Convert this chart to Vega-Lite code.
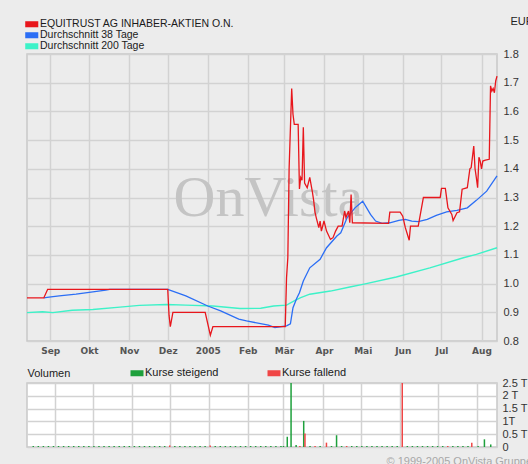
{
"$schema": "https://vega.github.io/schema/vega-lite/v6.json",
"background": "#ececec",
"padding": {"left": 23, "top": 14, "right": 0, "bottom": 0},
"config": {
  "font": "Liberation Sans",
  "view": {"fill": "white", "stroke": "#c8c8c8", "strokeWidth": 1.5},
  "axis": {"gridColor": "#d2d2d2", "gridWidth": 1.5, "domain": false, "ticks": false, "labelFont": "Liberation Sans", "labelFontSize": 11, "labelColor": "#333333", "labelFlush": false, "labelOverlap": false, "labelBound": false},
  "legend": {"labelFont": "Liberation Sans", "labelFontSize": 11, "labelColor": "#1a1a1a", "labelLimit": 400}
},
"datasets": {
  "lines": [
    {"s":"m200","date":"2004-08-14","v":0.899},{"s":"m200","date":"2004-08-26","v":0.902},{"s":"m200","date":"2004-09-03","v":0.899},{"s":"m200","date":"2004-09-18","v":0.907},{"s":"m200","date":"2004-10-04","v":0.91},{"s":"m200","date":"2004-10-25","v":0.918},{"s":"m200","date":"2004-11-09","v":0.924},{"s":"m200","date":"2004-11-30","v":0.927},{"s":"m200","date":"2004-12-15","v":0.925},{"s":"m200","date":"2005-01-05","v":0.922},{"s":"m200","date":"2005-01-26","v":0.913},{"s":"m200","date":"2005-02-11","v":0.914},{"s":"m200","date":"2005-02-21","v":0.922},{"s":"m200","date":"2005-03-03","v":0.925},{"s":"m200","date":"2005-03-10","v":0.942},{"s":"m200","date":"2005-03-14","v":0.951},{"s":"m200","date":"2005-03-21","v":0.963},{"s":"m200","date":"2005-04-06","v":0.974},{"s":"m200","date":"2005-04-21","v":0.988},{"s":"m200","date":"2005-05-02","v":0.998},{"s":"m200","date":"2005-05-27","v":1.023},{"s":"m200","date":"2005-06-22","v":1.055},{"s":"m200","date":"2005-07-18","v":1.09},{"s":"m200","date":"2005-07-28","v":1.102},{"s":"m200","date":"2005-08-13","v":1.125},
    {"s":"m38","date":"2004-08-27","v":0.95},{"s":"m38","date":"2004-08-31","v":0.953},{"s":"m38","date":"2004-09-08","v":0.957},{"s":"m38","date":"2004-09-21","v":0.963},{"s":"m38","date":"2004-10-04","v":0.971},{"s":"m38","date":"2004-10-14","v":0.977},{"s":"m38","date":"2004-10-17","v":0.98},{"s":"m38","date":"2004-12-01","v":0.98},{"s":"m38","date":"2004-12-15","v":0.957},{"s":"m38","date":"2005-01-01","v":0.922},{"s":"m38","date":"2005-01-11","v":0.905},{"s":"m38","date":"2005-01-25","v":0.876},{"s":"m38","date":"2005-01-31","v":0.87},{"s":"m38","date":"2005-02-17","v":0.855},{"s":"m38","date":"2005-02-22","v":0.847},{"s":"m38","date":"2005-03-03","v":0.853},{"s":"m38","date":"2005-03-06","v":0.86},{"s":"m38","date":"2005-03-08","v":0.916},{"s":"m38","date":"2005-03-11","v":0.95},{"s":"m38","date":"2005-03-13","v":0.968},{"s":"m38","date":"2005-03-16","v":1.009},{"s":"m38","date":"2005-03-21","v":1.055},{"s":"m38","date":"2005-03-29","v":1.085},{"s":"m38","date":"2005-04-03","v":1.125},{"s":"m38","date":"2005-04-11","v":1.166},{"s":"m38","date":"2005-04-14","v":1.177},{"s":"m38","date":"2005-04-19","v":1.23},{"s":"m38","date":"2005-04-25","v":1.264},{"s":"m38","date":"2005-05-01","v":1.287},{"s":"m38","date":"2005-05-07","v":1.241},{"s":"m38","date":"2005-05-11","v":1.218},{"s":"m38","date":"2005-05-16","v":1.21},{"s":"m38","date":"2005-05-22","v":1.212},{"s":"m38","date":"2005-05-29","v":1.22},{"s":"m38","date":"2005-06-03","v":1.224},{"s":"m38","date":"2005-06-08","v":1.218},{"s":"m38","date":"2005-06-13","v":1.216},{"s":"m38","date":"2005-06-20","v":1.224},{"s":"m38","date":"2005-06-27","v":1.238},{"s":"m38","date":"2005-07-05","v":1.25},{"s":"m38","date":"2005-07-13","v":1.255},{"s":"m38","date":"2005-07-21","v":1.264},{"s":"m38","date":"2005-07-28","v":1.29},{"s":"m38","date":"2005-08-05","v":1.322},{"s":"m38","date":"2005-08-13","v":1.375},
    {"s":"p","date":"2004-08-14","v":0.95},{"s":"p","date":"2004-08-27","v":0.95},{"s":"p","date":"2004-08-30","v":0.98},{"s":"p","date":"2004-12-01","v":0.98},{"s":"p","date":"2004-12-02","v":0.89},{"s":"p","date":"2004-12-03","v":0.85},{"s":"p","date":"2004-12-05","v":0.9},{"s":"p","date":"2004-12-30","v":0.9},{"s":"p","date":"2005-01-03","v":0.82},{"s":"p","date":"2005-01-05","v":0.85},{"s":"p","date":"2005-03-02","v":0.85},{"s":"p","date":"2005-03-03","v":1.02},{"s":"p","date":"2005-03-04","v":1.09},{"s":"p","date":"2005-03-05","v":1.4},{"s":"p","date":"2005-03-07","v":1.68},{"s":"p","date":"2005-03-08","v":1.59},{"s":"p","date":"2005-03-09","v":1.555},{"s":"p","date":"2005-03-12","v":1.555},{"s":"p","date":"2005-03-13","v":1.33},{"s":"p","date":"2005-03-14","v":1.37},{"s":"p","date":"2005-03-15","v":1.36},{"s":"p","date":"2005-03-16","v":1.545},{"s":"p","date":"2005-03-17","v":1.35},{"s":"p","date":"2005-03-19","v":1.334},{"s":"p","date":"2005-03-21","v":1.37},{"s":"p","date":"2005-03-22","v":1.345},{"s":"p","date":"2005-03-23","v":1.32},{"s":"p","date":"2005-03-24","v":1.29},{"s":"p","date":"2005-03-25","v":1.25},{"s":"p","date":"2005-03-26","v":1.23},{"s":"p","date":"2005-03-28","v":1.195},{"s":"p","date":"2005-03-29","v":1.218},{"s":"p","date":"2005-03-30","v":1.183},{"s":"p","date":"2005-04-01","v":1.218},{"s":"p","date":"2005-04-03","v":1.183},{"s":"p","date":"2005-04-06","v":1.154},{"s":"p","date":"2005-04-08","v":1.16},{"s":"p","date":"2005-04-10","v":1.183},{"s":"p","date":"2005-04-12","v":1.2},{"s":"p","date":"2005-04-15","v":1.2},{"s":"p","date":"2005-04-17","v":1.253},{"s":"p","date":"2005-04-18","v":1.23},{"s":"p","date":"2005-04-20","v":1.253},{"s":"p","date":"2005-04-21","v":1.212},{"s":"p","date":"2005-04-22","v":1.31},{"s":"p","date":"2005-04-23","v":1.212},{"s":"p","date":"2005-05-21","v":1.21},{"s":"p","date":"2005-05-22","v":1.249},{"s":"p","date":"2005-05-30","v":1.249},{"s":"p","date":"2005-06-01","v":1.235},{"s":"p","date":"2005-06-03","v":1.195},{"s":"p","date":"2005-06-06","v":1.151},{"s":"p","date":"2005-06-07","v":1.2},{"s":"p","date":"2005-06-13","v":1.2},{"s":"p","date":"2005-06-17","v":1.3},{"s":"p","date":"2005-06-30","v":1.3},{"s":"p","date":"2005-07-01","v":1.332},{"s":"p","date":"2005-07-04","v":1.332},{"s":"p","date":"2005-07-06","v":1.264},{"s":"p","date":"2005-07-09","v":1.241},{"s":"p","date":"2005-07-10","v":1.22},{"s":"p","date":"2005-07-13","v":1.247},{"s":"p","date":"2005-07-15","v":1.25},{"s":"p","date":"2005-07-17","v":1.329},{"s":"p","date":"2005-07-21","v":1.334},{"s":"p","date":"2005-07-23","v":1.4},{"s":"p","date":"2005-07-24","v":1.404},{"s":"p","date":"2005-07-26","v":1.479},{"s":"p","date":"2005-07-27","v":1.4},{"s":"p","date":"2005-07-28","v":1.369},{"s":"p","date":"2005-07-29","v":1.334},{"s":"p","date":"2005-07-30","v":1.44},{"s":"p","date":"2005-07-31","v":1.427},{"s":"p","date":"2005-08-01","v":1.4},{"s":"p","date":"2005-08-02","v":1.427},{"s":"p","date":"2005-08-04","v":1.43},{"s":"p","date":"2005-08-07","v":1.433},{"s":"p","date":"2005-08-08","v":1.689},{"s":"p","date":"2005-08-09","v":1.671},{"s":"p","date":"2005-08-10","v":1.68},{"s":"p","date":"2005-08-11","v":1.665},{"s":"p","date":"2005-08-12","v":1.706},{"s":"p","date":"2005-08-13","v":1.723}
  ],
  "vol": [
    {"date":"2004-12-01","v":0.06,"dir":"Kurse fallend"},{"date":"2005-01-02","v":0.06,"dir":"Kurse fallend"},
    {"date":"2005-03-04","v":0.4,"dir":"Kurse steigend"},{"date":"2005-03-07","v":2.5,"dir":"Kurse steigend"},{"date":"2005-03-11","v":0.08,"dir":"Kurse steigend"},{"date":"2005-03-17","v":1.02,"dir":"Kurse steigend"},{"date":"2005-03-18","v":0.53,"dir":"Kurse fallend"},{"date":"2005-04-04","v":0.17,"dir":"Kurse fallend"},{"date":"2005-04-12","v":0.46,"dir":"Kurse steigend"},{"date":"2005-06-03","v":2.5,"dir":"Kurse fallend"},{"date":"2005-07-28","v":0.17,"dir":"Kurse fallend"},{"date":"2005-08-07","v":0.3,"dir":"Kurse steigend"},{"date":"2005-08-12","v":0.1,"dir":"Kurse steigend"},
    {"date":"2004-08-15","v":0.04,"dir":"Kurse steigend"},{"date":"2004-08-19","v":0.04,"dir":"Kurse steigend"},{"date":"2004-08-23","v":0.04,"dir":"Kurse steigend"},{"date":"2004-08-27","v":0.04,"dir":"Kurse steigend"},{"date":"2004-08-31","v":0.04,"dir":"Kurse steigend"},{"date":"2004-09-04","v":0.04,"dir":"Kurse steigend"},{"date":"2004-09-08","v":0.04,"dir":"Kurse steigend"},{"date":"2004-09-12","v":0.04,"dir":"Kurse steigend"},{"date":"2004-09-16","v":0.04,"dir":"Kurse steigend"},{"date":"2004-09-20","v":0.04,"dir":"Kurse steigend"},{"date":"2004-09-24","v":0.04,"dir":"Kurse steigend"},{"date":"2004-09-28","v":0.04,"dir":"Kurse steigend"},{"date":"2004-10-02","v":0.04,"dir":"Kurse steigend"},{"date":"2004-10-06","v":0.04,"dir":"Kurse steigend"},{"date":"2004-10-10","v":0.04,"dir":"Kurse steigend"},{"date":"2004-10-14","v":0.04,"dir":"Kurse steigend"},{"date":"2004-10-18","v":0.04,"dir":"Kurse steigend"},{"date":"2004-10-22","v":0.04,"dir":"Kurse steigend"},{"date":"2004-10-26","v":0.04,"dir":"Kurse steigend"},{"date":"2004-10-30","v":0.04,"dir":"Kurse steigend"},{"date":"2004-11-03","v":0.04,"dir":"Kurse steigend"},{"date":"2004-11-07","v":0.04,"dir":"Kurse steigend"},{"date":"2004-11-11","v":0.04,"dir":"Kurse steigend"},{"date":"2004-11-15","v":0.04,"dir":"Kurse steigend"},{"date":"2004-11-19","v":0.04,"dir":"Kurse steigend"},{"date":"2004-11-23","v":0.04,"dir":"Kurse steigend"},{"date":"2004-11-27","v":0.04,"dir":"Kurse steigend"},{"date":"2004-12-05","v":0.04,"dir":"Kurse steigend"},{"date":"2004-12-09","v":0.04,"dir":"Kurse steigend"},{"date":"2004-12-13","v":0.04,"dir":"Kurse steigend"},{"date":"2004-12-17","v":0.04,"dir":"Kurse steigend"},{"date":"2004-12-21","v":0.04,"dir":"Kurse steigend"},{"date":"2004-12-25","v":0.04,"dir":"Kurse steigend"},{"date":"2004-12-29","v":0.04,"dir":"Kurse steigend"},{"date":"2005-01-06","v":0.04,"dir":"Kurse steigend"},{"date":"2005-01-10","v":0.04,"dir":"Kurse steigend"},{"date":"2005-01-14","v":0.04,"dir":"Kurse steigend"},{"date":"2005-01-18","v":0.04,"dir":"Kurse steigend"},{"date":"2005-01-22","v":0.04,"dir":"Kurse steigend"},{"date":"2005-01-26","v":0.04,"dir":"Kurse steigend"},{"date":"2005-01-30","v":0.04,"dir":"Kurse steigend"},{"date":"2005-02-03","v":0.04,"dir":"Kurse steigend"},{"date":"2005-02-07","v":0.04,"dir":"Kurse steigend"},{"date":"2005-02-11","v":0.04,"dir":"Kurse steigend"},{"date":"2005-02-15","v":0.04,"dir":"Kurse steigend"},{"date":"2005-02-19","v":0.04,"dir":"Kurse steigend"},{"date":"2005-02-23","v":0.04,"dir":"Kurse steigend"},{"date":"2005-02-27","v":0.04,"dir":"Kurse steigend"},{"date":"2005-03-01","v":0.04,"dir":"Kurse steigend"},{"date":"2005-03-14","v":0.04,"dir":"Kurse fallend"},{"date":"2005-03-22","v":0.04,"dir":"Kurse steigend"},{"date":"2005-03-26","v":0.04,"dir":"Kurse fallend"},{"date":"2005-03-30","v":0.04,"dir":"Kurse steigend"},{"date":"2005-04-08","v":0.04,"dir":"Kurse steigend"},{"date":"2005-04-16","v":0.04,"dir":"Kurse steigend"},{"date":"2005-04-20","v":0.04,"dir":"Kurse fallend"},{"date":"2005-04-24","v":0.04,"dir":"Kurse steigend"},{"date":"2005-04-28","v":0.04,"dir":"Kurse steigend"},{"date":"2005-05-02","v":0.04,"dir":"Kurse steigend"},{"date":"2005-05-06","v":0.04,"dir":"Kurse steigend"},{"date":"2005-05-10","v":0.04,"dir":"Kurse steigend"},{"date":"2005-05-14","v":0.04,"dir":"Kurse steigend"},{"date":"2005-05-18","v":0.04,"dir":"Kurse steigend"},{"date":"2005-05-22","v":0.04,"dir":"Kurse steigend"},{"date":"2005-05-26","v":0.04,"dir":"Kurse steigend"},{"date":"2005-05-30","v":0.04,"dir":"Kurse steigend"},{"date":"2005-06-07","v":0.04,"dir":"Kurse steigend"},{"date":"2005-06-11","v":0.04,"dir":"Kurse steigend"},{"date":"2005-06-15","v":0.04,"dir":"Kurse steigend"},{"date":"2005-06-19","v":0.04,"dir":"Kurse steigend"},{"date":"2005-06-23","v":0.04,"dir":"Kurse steigend"},{"date":"2005-06-27","v":0.04,"dir":"Kurse steigend"},{"date":"2005-07-01","v":0.04,"dir":"Kurse steigend"},{"date":"2005-07-05","v":0.04,"dir":"Kurse steigend"},{"date":"2005-07-09","v":0.04,"dir":"Kurse fallend"},{"date":"2005-07-13","v":0.04,"dir":"Kurse steigend"},{"date":"2005-07-17","v":0.04,"dir":"Kurse steigend"},{"date":"2005-07-21","v":0.04,"dir":"Kurse steigend"},{"date":"2005-07-25","v":0.04,"dir":"Kurse steigend"},{"date":"2005-08-02","v":0.04,"dir":"Kurse steigend"}
  ]
},
"spacing": 42,
"bounds": "flush",
"resolve": {"scale": {"color": "independent"}, "legend": {"color": "independent"}},
"vconcat": [
  {
    "width": 470,
    "height": 287,
    "data": {"name": "lines"},
    "encoding": {
      "x": {"field": "date", "type": "temporal",
        "scale": {"type": "utc", "nice": false, "domain": [{"year": 2004, "month": 8, "date": 14, "utc": true}, {"year": 2005, "month": 8, "date": 13, "utc": true}]},
        "axis": {"title": null, "labelFont": "DejaVu Sans", "labelFontSize": 9, "labelFontWeight": "bold", "labelColor": "#555555", "labelPadding": 5,
          "values": [{"year":2004,"month":9,"date":1,"utc":true},{"year":2004,"month":10,"date":1,"utc":true},{"year":2004,"month":11,"date":1,"utc":true},{"year":2004,"month":12,"date":1,"utc":true},{"year":2005,"month":1,"date":1,"utc":true},{"year":2005,"month":2,"date":1,"utc":true},{"year":2005,"month":3,"date":1,"utc":true},{"year":2005,"month":4,"date":1,"utc":true},{"year":2005,"month":5,"date":1,"utc":true},{"year":2005,"month":6,"date":1,"utc":true},{"year":2005,"month":7,"date":1,"utc":true},{"year":2005,"month":8,"date":1,"utc":true}],
          "labelExpr": "utcmonth(datum.value)==0 ? utcFormat(datum.value,'%Y') : ['Jan','Feb','Mär','Apr','Mai','Jun','Jul','Aug','Sep','Okt','Nov','Dez'][utcmonth(datum.value)]"}},
      "y": {"field": "v", "type": "quantitative",
        "scale": {"domain": [0.8, 1.8], "nice": false, "zero": false},
        "axis": {"orient": "right", "values": [0.8,0.9,1.0,1.1,1.2,1.3,1.4,1.5,1.6,1.7,1.8], "format": ".1f", "labelPadding": 6,
          "title": "EUR", "titleAngle": 0, "titleAlign": "left", "titleBaseline": "middle", "titleX": 13, "titleY": -33, "titleFontSize": 11, "titleFontWeight": "normal", "titleColor": "#222222", "titleFont": "Liberation Sans"}}
    },
    "layer": [
      {
        "data": {"values": [{"label": "OnVista", "date": "2005-02-17", "v": 1.235}]},
        "mark": {"type": "text", "font": "Liberation Serif", "fontSize": 58, "color": "#c4c4c4", "baseline": "alphabetic", "align": "center"},
        "encoding": {
          "text": {"field": "label", "type": "nominal"}
        }
      },
      {
        "transform": [{"filter": "datum.s == 'm200'"}],
        "mark": {"type": "line", "strokeWidth": 1.4, "color": "#3df2c8"}
      },
      {
        "transform": [{"filter": "datum.s == 'm38'"}],
        "mark": {"type": "line", "strokeWidth": 1.3, "color": "#2b6ef5"}
      },
      {
        "transform": [{"filter": "datum.s == 'p'"}],
        "mark": {"type": "line", "strokeWidth": 1.3, "color": "#e8161c"}
      },
      {
        "data": {"values": [{"series": "EQUITRUST AG INHABER-AKTIEN O.N."}, {"series": "Durchschnitt 38 Tage"}, {"series": "Durchschnitt 200 Tage"}]},
        "mark": {"type": "square", "opacity": 0, "size": 0},
        "encoding": {
          "x": null,
          "y": null,
          "color": {"field": "series", "type": "nominal",
            "scale": {"domain": ["EQUITRUST AG INHABER-AKTIEN O.N.", "Durchschnitt 38 Tage", "Durchschnitt 200 Tage"], "range": ["#e8161c", "#2b6ef5", "#3df2c8"]},
            "legend": {"orient": "none", "legendX": -0.5, "legendY": -35, "title": null, "symbolType": "M-1.45,-0.67H1.45V0.67H-1.45Z", "symbolSize": 81, "symbolOpacity": 1, "symbolStrokeWidth": 0, "rowPadding": 0, "labelOffset": 3, "labelFontSize": 10.5, "padding": 0}}
        }
      }
    ]
  },
  {
    "width": 470,
    "height": 64,
    "data": {"name": "vol"},
    "mark": {"type": "bar", "size": 1.5, "clip": true},
    "encoding": {
      "x": {"field": "date", "type": "temporal",
        "scale": {"type": "utc", "nice": false, "domain": [{"year": 2004, "month": 8, "date": 14, "utc": true}, {"year": 2005, "month": 8, "date": 13, "utc": true}]},
        "axis": {"labels": false,
          "values": [{"year":2004,"month":9,"date":1,"utc":true},{"year":2004,"month":10,"date":1,"utc":true},{"year":2004,"month":11,"date":1,"utc":true},{"year":2004,"month":12,"date":1,"utc":true},{"year":2005,"month":1,"date":1,"utc":true},{"year":2005,"month":2,"date":1,"utc":true},{"year":2005,"month":3,"date":1,"utc":true},{"year":2005,"month":4,"date":1,"utc":true},{"year":2005,"month":5,"date":1,"utc":true},{"year":2005,"month":6,"date":1,"utc":true},{"year":2005,"month":7,"date":1,"utc":true},{"year":2005,"month":8,"date":1,"utc":true}],
          "title": "© 1999-2005 OnVista Gruppe", "titleX": 359, "titleY": 14, "titleAlign": "left", "titleBaseline": "middle", "titleFontSize": 11, "titleFontWeight": "normal", "titleColor": "#a8a8a8", "titleFont": "Liberation Sans"}},
      "y": {"field": "v", "type": "quantitative",
        "scale": {"domain": [0, 2.5], "nice": false},
        "axis": {"orient": "right", "values": [0, 0.5, 1, 1.5, 2, 2.5], "labelPadding": 5,
          "labelExpr": "datum.value == 0 ? '0' : (datum.value == 1 ? '1T' : datum.value + ' T')",
          "title": "Volumen", "titleAngle": 0, "titleAlign": "left", "titleBaseline": "middle", "titleX": -470, "titleY": -10, "titleFontSize": 11, "titleFontWeight": "normal", "titleColor": "#222222", "titleFont": "Liberation Sans"}},
      "color": {"field": "dir", "type": "nominal",
        "scale": {"domain": ["Kurse steigend", "Kurse fallend"], "range": ["#1ea03c", "#f04646"]},
        "legend": {"orient": "none", "legendX": 104.5, "legendY": -15.5, "title": null, "direction": "horizontal", "columns": 2, "columnPadding": 49, "padding": 0, "labelOffset": 2.5,
          "symbolType": "M-1.3,-0.6H1.3V0.6H-1.3Z", "symbolSize": 100, "symbolStrokeWidth": 0, "symbolOpacity": 1}}
    }
  }
]
}
